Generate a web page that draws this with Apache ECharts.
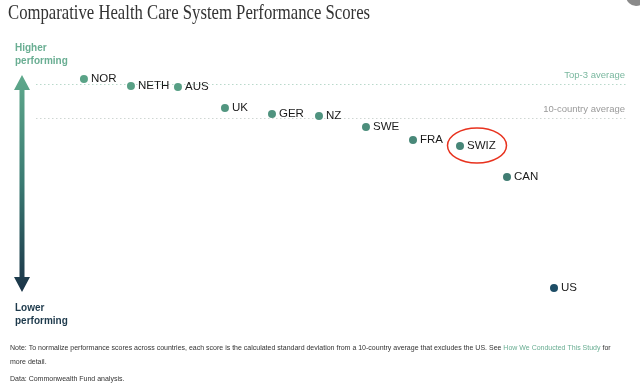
<!DOCTYPE html>
<html>
<head>
<meta charset="utf-8">
<script src="https://cdn.jsdelivr.net/npm/echarts@6/dist/echarts.min.js"></script>
<style>
html,body{margin:0;padding:0;background:#fff;}
#chart{width:640px;height:389px;}
</style>
</head>
<body>
<div id="chart"></div>
<script>
// Data
const countries = ['NOR','NETH','AUS','UK','GER','NZ','SWE','FRA','SWIZ','CAN','US'];
const scores = [0.39, 0.32, 0.31, 0.10, 0.04, 0.02, -0.09, -0.22, -0.28, -0.59, -1.70];
const top3Average = 0.34;
const tenCountryAverage = 0;
const highlighted = 'SWIZ';

const chart = echarts.init(document.getElementById('chart'), null, {renderer:'canvas'});

const pointData = countries.map((c, i) => ({name: c, value: [i, scores[i]]}));

const option = {
  backgroundColor: '#fff',
  animation: false,
  grid: {left: 36, right: 12, top: 58, height: 260},
  xAxis: {type: 'value', min: -1.02, max: 11.574, show: false},
  yAxis: {type: 'value', min: -2, max: 0.6, show: false},
  visualMap: {
    show: false, type: 'continuous', dimension: 1, seriesIndex: 1,
    min: -1.75, max: 0.4,
    inRange: {color: ['#1b4a66', '#37716c', '#468477', '#5aa387']}
  },
  series: [{
    type: 'scatter',
    data: [],
    z: 1,
    markLine: {
      silent: true, symbol: 'none',
      lineStyle: {type: [1.5, 2.5], width: 1},
      label: {position: 'insideEndTop', fontSize: 9.5, fontFamily: 'Liberation Sans, Arial, sans-serif', distance: [3, 4]},
      data: [
        {yAxis: top3Average, name: 'Top-3 average',
         lineStyle: {color: '#b9d9cb'},
         label: {formatter: 'Top-3 average', color: '#7ab89f'}},
        {yAxis: tenCountryAverage, name: '10-country average',
         lineStyle: {color: '#cfd6d3'},
         label: {formatter: '10-country average', color: '#9a9a9a'}}
      ]
    }
  }, {
    type: 'scatter',
    data: pointData,
    z: 5,
    symbolSize: 8,
    itemStyle: {opacity: 1},
    label: {
      show: true, position: 'right', distance: 3,
      formatter: p => p.name,
      color: '#1a1a1a', fontSize: 11.5, fontFamily: 'Liberation Sans, Arial, sans-serif'
    }
  }],
  graphic: [
    {type: 'text', left: 8, top: 3, scaleX: 0.795,
     style: {text: 'Comparative Health Care System Performance Scores', font: '21px "Liberation Serif", serif', fill: '#333'}},
    {type: 'circle', shape: {cx: 636, cy: -4, r: 10}, style: {fill: '#8a8a8a'}},
    {type: 'text', left: 15, top: 42,
     style: {text: 'Higher\nperforming', font: 'bold 10px "Liberation Sans", Arial, sans-serif', fill: '#6aae93', lineHeight: 13}},
    {type: 'text', left: 15, top: 302,
     style: {text: 'Lower\nperforming', font: 'bold 10px "Liberation Sans", Arial, sans-serif', fill: '#1e3a4c', lineHeight: 13}},
    {type: 'polygon',
     shape: {points: [[22,75],[30,90],[24.5,90],[24.5,277],[30,277],[22,292],[14,277],[19.5,277],[19.5,90],[14,90]]},
     style: {fill: new echarts.graphic.LinearGradient(0,0,0,1,[{offset:0,color:'#5fa98c'},{offset:0.5,color:'#3a7a72'},{offset:1,color:'#1a3347'}])}},
    {type: 'text', left: 10, top: 345,
     style: {
       text: '{a|Note: To normalize performance scores across countries, each score is the calculated standard deviation from a 10-country average that excludes the US. See }{b|How We Conducted This Study}{a| for}\n{a|more detail.}',
       rich: {
         a: {fontSize: 7, fontFamily: 'Liberation Sans, Arial, sans-serif', fill: '#333', lineHeight: 14},
         b: {fontSize: 7, fontFamily: 'Liberation Sans, Arial, sans-serif', fill: '#6aae93', lineHeight: 14}
       }
     }},
    {type: 'text', left: 10, top: 376,
     style: {text: 'Data: Commonwealth Fund analysis.', font: '7px "Liberation Sans", Arial, sans-serif', fill: '#333'}}
  ]
};
chart.setOption(option);

// Highlight ellipse positioned from the library's scale
const hi = countries.indexOf(highlighted);
const px = chart.convertToPixel({seriesIndex: 1}, [hi, scores[hi]]);
chart.setOption({graphic: option.graphic.concat([
  {type: 'ellipse', shape: {cx: px[0] + 17, cy: px[1] - 0.5, rx: 29.5, ry: 17.5},
   style: {fill: 'none', stroke: '#e8321e', lineWidth: 1.5}}
])});
</script>
</body>
</html>
